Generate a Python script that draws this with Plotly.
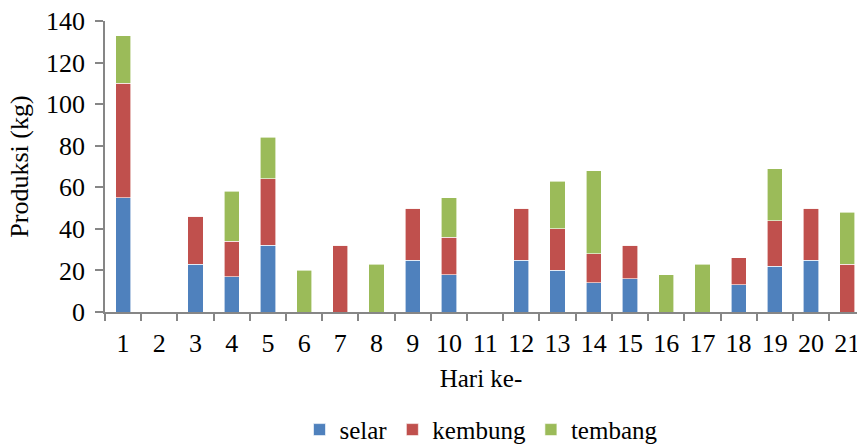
import plotly.graph_objects as go

days = [str(i) for i in range(1, 22)]
selar =   [55, 0, 23, 17, 32, 0, 0, 0, 25, 18, 0, 25, 20, 14, 16, 0, 0, 13, 22, 25, 0]
kembung = [55, 0, 23, 17, 32, 0, 32, 0, 25, 18, 0, 25, 20, 14, 16, 0, 0, 13, 22, 25, 23]
tembang = [23, 0, 0, 24, 20, 20, 0, 23, 0, 19, 0, 0, 23, 40, 0, 18, 23, 0, 25, 0, 25]

series = [("selar", selar, "#4F81BD"), ("kembung", kembung, "#C0504D"), ("tembang", tembang, "#9BBB59")]

fig = go.Figure()
for name, vals, col in series:
    fig.add_trace(go.Bar(x=days, y=vals, name=name, cliponaxis=False,
                         marker=dict(color=col, line=dict(color="white", width=0.6))))

fam = "Liberation Serif"
font = dict(family=fam, size=25, color="#000000")
tickfont = dict(family=fam, size=26, color="#000000")
ytitlefont = dict(family=fam, size=26, color="#000000")
fig.update_layout(
    barmode="stack", bargap=0.58,
    width=857, height=445,
    margin=dict(l=105, r=0, t=21, b=133, autoexpand=False),
    plot_bgcolor="white", paper_bgcolor="white",
    font=font,
    showlegend=True,
    legend=dict(orientation="h", x=0.5, xanchor="center", y=-0.405, yanchor="middle",
                font=font, itemwidth=30, traceorder="normal"),
    xaxis=dict(type="category", range=[-0.5, 20.27], showline=True, linecolor="#868686", linewidth=1.5,
               ticks="outside", tickson="boundaries", ticklen=7, tickcolor="#868686", tickwidth=1.5,
               ticklabelstandoff=7, tickfont=tickfont,
               showgrid=False, title=dict(text="Hari ke-", standoff=13, font=font), zeroline=False,
               automargin=False),
    yaxis=dict(range=[0, 140], dtick=20, showline=True, linecolor="#868686", linewidth=1.5,
               ticks="outside", ticklen=8, tickcolor="#868686", tickwidth=1.5, ticklabelstandoff=5,
               tickfont=tickfont, showgrid=False, zeroline=False, automargin=False,
               title=dict(text="Produksi (kg)", standoff=10, font=ytitlefont)),
)
fig.write_html("out.html", config={"displayModeBar": False},
               post_script="document.body.style.margin='0';document.body.style.overflow='hidden';")
